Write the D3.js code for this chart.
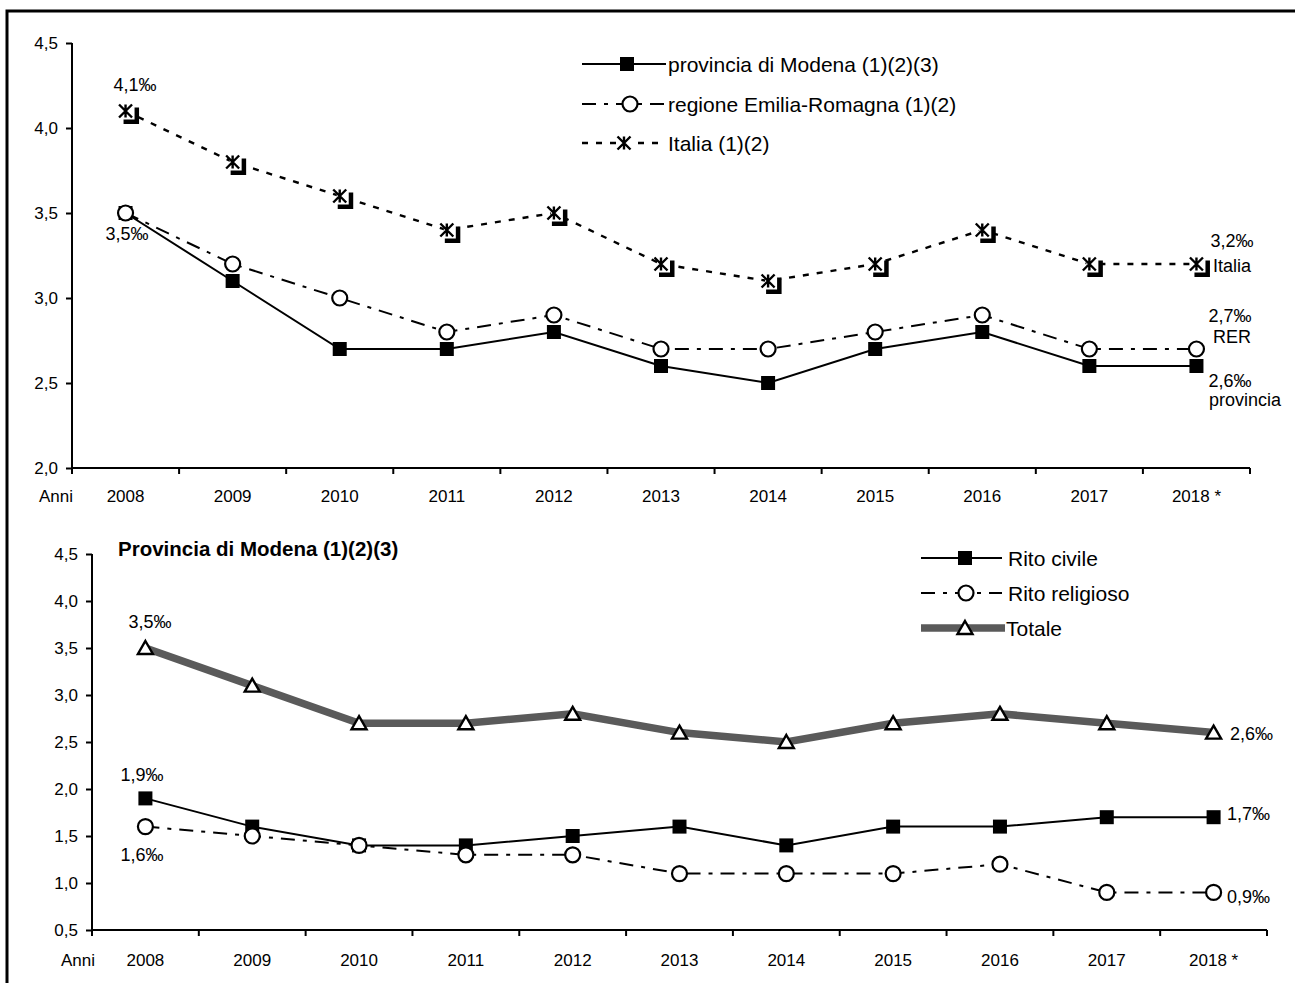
<!DOCTYPE html>
<html>
<head>
<meta charset="utf-8">
<script src="https://cdn.jsdelivr.net/npm/d3@7"></script>
<style>
  html, body { margin: 0; padding: 0; background: #fff; }
  svg { display: block; font-family: "Liberation Sans", Arial, sans-serif; }
</style>
</head>
<body>
<svg id="chart" width="1295" height="983"></svg>
<script>
// ---------- data ----------
const years = ["2008", "2009", "2010", "2011", "2012", "2013", "2014", "2015", "2016", "2017", "2018 *"];

const modena = [3.5, 3.1, 2.7, 2.7, 2.8, 2.6, 2.5, 2.7, 2.8, 2.6, 2.6];
const rer    = [3.5, 3.2, 3.0, 2.8, 2.9, 2.7, 2.7, 2.8, 2.9, 2.7, 2.7];
const italia = [4.1, 3.8, 3.6, 3.4, 3.5, 3.2, 3.1, 3.2, 3.4, 3.2, 3.2];

const civile    = [1.9, 1.6, 1.4, 1.4, 1.5, 1.6, 1.4, 1.6, 1.6, 1.7, 1.7];
const religioso = [1.6, 1.5, 1.4, 1.3, 1.3, 1.1, 1.1, 1.1, 1.2, 0.9, 0.9];
const totale    = [3.5, 3.1, 2.7, 2.7, 2.8, 2.6, 2.5, 2.7, 2.8, 2.7, 2.6];

const topTicks    = [2.0, 2.5, 3.0, 3.5, 4.0, 4.5];
const bottomTicks = [0.5, 1.0, 1.5, 2.0, 2.5, 3.0, 3.5, 4.0, 4.5];

const topLegend    = ["provincia di Modena (1)(2)(3)", "regione Emilia-Romagna (1)(2)", "Italia (1)(2)"];
const bottomLegend = ["Rito civile", "Rito religioso", "Totale"];
const bottomTitle  = "Provincia di Modena (1)(2)(3)";
const axisTitle    = "Anni";

// ---------- setup ----------
const svg = d3.select("#chart");
const fmt = v => d3.format(".1f")(v).replace(".", ",");
const FONT_TICK = 17, FONT_ANN = 18, FONT_LEG = 21;
const TOT_COLOR = "#5a5a5a";

// outer frame
svg.append("path").attr("d", "M7,990 L7,11 L1300,11")
  .attr("fill", "none").attr("stroke", "#000").attr("stroke-width", 3);

const DASHDOT = "14,8,4,8";
const DOTTED = "6,8";

// ---------- marker helpers ----------
function square(g, x, y, s) {
  g.append("rect").attr("x", x - s / 2).attr("y", y - s / 2).attr("width", s).attr("height", s).attr("fill", "#000");
}
function circle(g, x, y, r) {
  g.append("circle").attr("cx", x).attr("cy", y).attr("r", r)
    .attr("fill", "#fff").attr("stroke", "#000").attr("stroke-width", 2.2);
}
function asterisk(g, x, y, h) {
  g.append("path")
    .attr("d", `M${x - h},${y - h}L${x + h},${y + h}M${x - h},${y + h}L${x + h},${y - h}M${x},${y - h}L${x},${y + h}`)
    .attr("stroke", "#000").attr("stroke-width", 2.4).attr("fill", "none");
}
function italiaMarker(g, x, y) {
  g.append("rect").attr("x", x - 2).attr("y", y - 3.5).attr("width", 15.5).attr("height", 16.5).attr("fill", "#000");
  g.append("rect").attr("x", x - 3).attr("y", y - 5).attr("width", 12).attr("height", 13.5).attr("fill", "#fff");
  asterisk(g, x, y, 6.5);
}
function triangle(g, x, y) {
  g.append("path").attr("d", `M${x},${y - 7}L${x + 7.5},${y + 6}L${x - 7.5},${y + 6}Z`)
    .attr("fill", "#fff").attr("stroke", "#000").attr("stroke-width", 2.4).attr("stroke-linejoin", "miter");
}

// ---------- axis drawing ----------
function drawAxes(x, y, ticks, labelBaseline, anniX) {
  const x0 = x.range()[0], x1 = x.range()[1];
  const y0 = y.range()[0], y1 = y.range()[1];
  const g = svg.append("g");
  const ya = g.append("g").attr("transform", `translate(${x0},0)`)
    .call(d3.axisLeft(y).tickValues(ticks).tickFormat(fmt).tickSize(6).tickPadding(8));
  ya.select(".domain").attr("stroke", "#000").attr("stroke-width", 2).attr("d", `M0,${y1}V${y0}`);
  ya.selectAll(".tick line").attr("stroke", "#000").attr("stroke-width", 2);
  ya.selectAll(".tick text").attr("font-size", FONT_TICK).attr("font-family", "Liberation Sans, Arial").attr("fill", "#000");
  const xa = g.append("g").attr("transform", `translate(0,${y0})`)
    .call(d3.axisBottom(x).tickSize(0).tickPadding(0));
  xa.select(".domain").attr("stroke", "#000").attr("stroke-width", 2).attr("d", `M${x0},0H${x1}`);
  xa.selectAll(".tick text").attr("font-size", FONT_TICK).attr("font-family", "Liberation Sans, Arial")
    .attr("fill", "#000").attr("dy", null).attr("y", labelBaseline);
  const bounds = x.domain().map(d => x(d)).concat([x1]);
  g.selectAll(null).data(bounds).enter().append("line")
    .attr("x1", d => d).attr("x2", d => d).attr("y1", y0).attr("y2", y0 + 6)
    .attr("stroke", "#000").attr("stroke-width", 2);
  g.append("text").attr("x", anniX).attr("y", y0 + labelBaseline).attr("text-anchor", "end")
    .attr("font-size", FONT_TICK).text(axisTitle);
}

function linePath(x, y, vals) {
  return d3.line().x((d, i) => x(years[i]) + x.bandwidth() / 2).y(d => y(d))(vals);
}
function ann(text, xx, yy, anchor, weight) {
  svg.append("text").attr("x", xx).attr("y", yy).attr("text-anchor", anchor || "middle")
    .attr("font-size", FONT_ANN).attr("font-weight", weight || "normal").text(text);
}

// ---------- TOP CHART ----------
const xT = d3.scaleBand().domain(years).range([72, 1250]).padding(0);
const yT = d3.scaleLinear().domain([2.0, 4.5]).range([468, 43]);
drawAxes(xT, yT, topTicks, 34, 73);

const cxT = i => xT(years[i]) + xT.bandwidth() / 2;
const gT = svg.append("g");
gT.append("path").attr("d", linePath(xT, yT, italia)).attr("fill", "none")
  .attr("stroke", "#000").attr("stroke-width", 2.4).attr("stroke-dasharray", DOTTED);
gT.append("path").attr("d", linePath(xT, yT, rer)).attr("fill", "none")
  .attr("stroke", "#000").attr("stroke-width", 2).attr("stroke-dasharray", DASHDOT);
gT.append("path").attr("d", linePath(xT, yT, modena)).attr("fill", "none")
  .attr("stroke", "#000").attr("stroke-width", 2);
modena.forEach((v, i) => square(gT, cxT(i), yT(v), 14));
rer.forEach((v, i) => circle(gT, cxT(i), yT(v), 7.5));
italia.forEach((v, i) => italiaMarker(gT, cxT(i), yT(v)));

ann(fmt(italia[0]) + "‰", 135, 91);
ann(fmt(modena[0]) + "‰", 127, 240);
ann(fmt(italia[10]) + "‰", 1232, 247);
ann("Italia", 1213, 272, "start");
ann(fmt(rer[10]) + "‰", 1230, 322);
ann("RER", 1232, 343);
ann(fmt(modena[10]) + "‰", 1230, 387);
ann("provincia", 1245, 406);

const legT = svg.append("g");
const legTY = [64, 104, 143];
const legTStyles = [null, DASHDOT, DOTTED];
legTY.forEach((yy, i) => {
  legT.append("line").attr("x1", 582).attr("x2", 666).attr("y1", yy).attr("y2", yy)
    .attr("stroke", "#000").attr("stroke-width", i === 2 ? 2.4 : 2)
    .attr("stroke-dasharray", legTStyles[i]);
  if (i === 0) square(legT, 627, yy, 14);
  if (i === 1) circle(legT, 630, yy, 7.5);
  if (i === 2) { legT.append("rect").attr("x", 616).attr("y", yy - 8).attr("width", 16).attr("height", 16).attr("fill", "#fff"); asterisk(legT, 624, yy, 6.5); }
  legT.append("text").attr("x", 668).attr("y", yy + 7.5).attr("font-size", FONT_LEG).text(topLegend[i]);
});

// ---------- BOTTOM CHART ----------
const xB = d3.scaleBand().domain(years).range([92, 1267]).padding(0);
const yB = d3.scaleLinear().domain([0.5, 4.5]).range([930, 554]);
drawAxes(xB, yB, bottomTicks, 36, 95);

const cxB = i => xB(years[i]) + xB.bandwidth() / 2;
const gB = svg.append("g");
gB.append("path").attr("d", linePath(xB, yB, totale)).attr("fill", "none")
  .attr("stroke", TOT_COLOR).attr("stroke-width", 7.5);
gB.append("path").attr("d", linePath(xB, yB, religioso)).attr("fill", "none")
  .attr("stroke", "#000").attr("stroke-width", 2).attr("stroke-dasharray", DASHDOT);
gB.append("path").attr("d", linePath(xB, yB, civile)).attr("fill", "none")
  .attr("stroke", "#000").attr("stroke-width", 2);
totale.forEach((v, i) => triangle(gB, cxB(i), yB(v)));
civile.forEach((v, i) => square(gB, cxB(i), yB(v), 14));
religioso.forEach((v, i) => circle(gB, cxB(i), yB(v), 7.5));

svg.append("text").attr("x", 118).attr("y", 556).attr("font-size", 20.5).attr("font-weight", "bold").text(bottomTitle);

ann(fmt(totale[0]) + "‰", 150, 628);
ann(fmt(totale[10]) + "‰", 1230, 740, "start");
ann(fmt(civile[0]) + "‰", 142, 781);
ann(fmt(civile[10]) + "‰", 1227, 820, "start");
ann(fmt(religioso[0]) + "‰", 142, 861);
ann(fmt(religioso[10]) + "‰", 1227, 903, "start");

const legB = svg.append("g");
const legBY = [558, 593, 628];
legBY.forEach((yy, i) => {
  if (i === 2) {
    legB.append("line").attr("x1", 921).attr("x2", 1005).attr("y1", yy).attr("y2", yy)
      .attr("stroke", TOT_COLOR).attr("stroke-width", 7.5);
    triangle(legB, 965, yy);
  } else {
    legB.append("line").attr("x1", 921).attr("x2", 1002).attr("y1", yy).attr("y2", yy)
      .attr("stroke", "#000").attr("stroke-width", 2)
      .attr("stroke-dasharray", i === 1 ? DASHDOT : null);
    if (i === 0) square(legB, 965, yy, 14); else circle(legB, 966, yy, 7.5);
  }
  legB.append("text").attr("x", i === 2 ? 1006 : 1008).attr("y", yy + 7.5).attr("font-size", FONT_LEG).text(bottomLegend[i]);
});
</script>
</body>
</html>
